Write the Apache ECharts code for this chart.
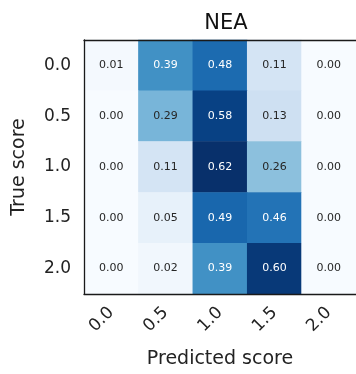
<!DOCTYPE html>
<html><head><meta charset="utf-8">
<script src="https://cdn.jsdelivr.net/npm/echarts@6/dist/echarts.min.js"></script>
<style>html,body{margin:0;padding:0;background:#fff}#c{width:356px;height:374px}</style>
</head><body><div id="c"></div>
<script>
const predicted = ['0.0','0.5','1.0','1.5','2.0'];
const trueScores = ['0.0','0.5','1.0','1.5','2.0'];
const row00 = [0.01,0.39,0.48,0.11,0.00];
const row05 = [0.00,0.29,0.58,0.13,0.00];
const row10 = [0.00,0.11,0.62,0.26,0.00];
const row15 = [0.00,0.05,0.49,0.46,0.00];
const row20 = [0.00,0.02,0.39,0.60,0.00];
const rows = [row00,row05,row10,row15,row20];
const blues = ['#f7fbff','#deebf7','#c6dbef','#9ecae1','#6baed6','#4292c6','#2171b5','#08519c','#08306b'];
const vmax = 0.62;
const data = [];
rows.forEach((r,yi)=>r.forEach((v,xi)=>{
  data.push({value:[xi,yi,v],label:{color: v > vmax/2 ? '#ffffff' : '#262626'}});
}));
const font = 'DejaVu Sans';
const lineC = '#1a1a1a';
const chart = echarts.init(document.getElementById('c'));
chart.setOption({
  animation:false,
  title:{text:'NEA',left:221,top:8,textAlign:'center',textStyle:{fontFamily:font,fontSize:21,fontWeight:'normal',color:'#111'}},
  grid:{left:84,top:40,width:275,height:256},
  xAxis:[{type:'category',data:predicted,position:'bottom',z:5,
    name:'Predicted score',nameLocation:'middle',nameGap:56,
    nameTextStyle:{fontFamily:font,fontSize:19,color:'#222'},
    axisLine:{lineStyle:{color:lineC,width:1.3}},
    axisTick:{alignWithLabel:true,length:7,lineStyle:{color:lineC,width:1.2}},
    axisLabel:{rotate:45,fontFamily:font,fontSize:17,color:'#222',margin:16}},
   {type:'category',data:predicted,position:'top',z:5,
    axisLine:{show:true,lineStyle:{color:lineC,width:1.3}},axisTick:{show:false},axisLabel:{show:false}}],
  yAxis:[{type:'category',data:trueScores,inverse:true,z:5,
    name:'True score',nameLocation:'middle',nameGap:55,
    nameTextStyle:{fontFamily:font,fontSize:19,color:'#222'},
    axisLine:{lineStyle:{color:lineC,width:1.3}},
    axisTick:{alignWithLabel:true,length:7,lineStyle:{color:lineC,width:1.2}},
    axisLabel:{fontFamily:font,fontSize:17,color:'#222',margin:13}}],
  visualMap:{show:false,min:0,max:vmax,dimension:2,inRange:{color:blues}},
  series:[{type:'heatmap',data:data,z:1,
    label:{show:true,fontFamily:font,fontSize:11,formatter:p=>p.value[2].toFixed(2)}}]
});
</script></body></html>
